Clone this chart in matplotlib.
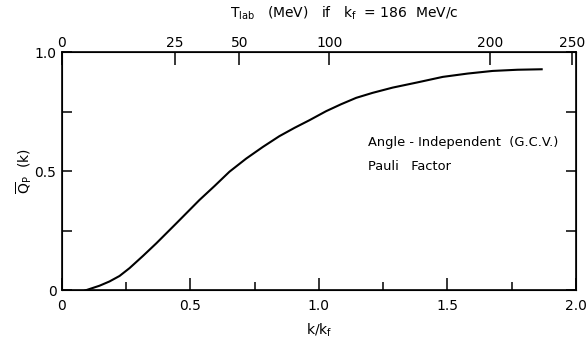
"""
Angle-independent Pauli factor vs k/k_f, with T_lab scale on top.
"""

# Imports #
import numpy as np
from matplotlib import pyplot as plt

# Data #
k_ratio = [0.09, 0.146, 0.185, 0.224, 0.263, 0.315, 0.367, 0.406, 0.445,
           0.490, 0.535, 0.594, 0.652, 0.717, 0.782, 0.846, 0.905, 0.963,
           1.028, 1.086, 1.145, 1.209, 1.287, 1.384, 1.482, 1.579, 1.676,
           1.773, 1.867]
q_pauli = [0.0, 0.020, 0.038, 0.061, 0.094, 0.145, 0.198, 0.240, 0.282,
           0.331, 0.380, 0.439, 0.499, 0.554, 0.603, 0.648, 0.683, 0.715,
           0.753, 0.782, 0.809, 0.830, 0.852, 0.874, 0.897, 0.911, 0.922,
           0.927, 0.929]

x_major = [0, 0.5, 1.0, 1.5, 2.0]
x_major_labels = ["0", "0.5", "1.0", "1.5", "2.0"]
x_minor = [0.25, 0.75, 1.25, 1.75]
y_major = [0, 0.5, 1.0]
y_major_labels = ["0", "0.5", "1.0"]
y_minor = [0.25, 0.75]

# T_lab (MeV) ticks on the top axis and where they sit in k/k_f
tlab_labels = ["0", "25", "50", "100", "200", "250"]
tlab_at_k = [0.0, 0.44, 0.69, 1.04, 1.665, 1.985]

plt.rcParams['font.family'] = ['DejaVu Sans']
fig = plt.figure(figsize=(5.87, 3.40), dpi=100)
ax = fig.add_axes([0.1056, 0.1456, 0.8754, 0.7004])

ax.plot(k_ratio, q_pauli, color='black', linewidth=1.5)

ax.set_xlim(0, 2.0)
ax.set_ylim(0, 1.0)
ax.set_xticks(x_major)
ax.set_xticklabels(x_major_labels)
ax.set_xticks(x_minor, minor=True)
ax.set_yticks(y_major)
ax.set_yticklabels(y_major_labels)
ax.set_yticks(y_minor, minor=True)
ax.tick_params(axis='x', which='major', direction='in', length=9, width=1.1,
               labelsize=10, pad=6)
ax.tick_params(axis='x', which='minor', direction='in', length=6, width=1.1)
ax.tick_params(axis='y', which='both', direction='in', length=7, width=1.1,
               right=True, labelsize=10, pad=4)
for s in ax.spines.values():
    s.set_linewidth(1.2)

ax.set_xlabel(r'k/k$_{\mathrm{f}}$', fontsize=10)
ax.xaxis.set_label_coords(0.5, -0.13)
ax.set_ylabel(r'$\overline{\mathrm{Q}}_{\mathrm{P}}$  (k)', fontsize=10)
ax.yaxis.set_label_coords(-0.055, 0.5)

# Top scale #
top = ax.twiny()
top.set_xlim(ax.get_xlim())
top.set_xticks(tlab_at_k)
top.set_xticklabels(tlab_labels)
top.tick_params(axis='x', direction='in', length=9, width=1.1, labelsize=10,
                pad=2)
top.set_xlabel(r'T$_{\mathrm{lab}}$   (MeV)   if   k$_{\mathrm{f}}$  = 186  MeV/c',
               fontsize=10)
top.xaxis.set_label_coords(0.55, 1.145)

ax.text(1.19, 0.62, 'Angle - Independent  (G.C.V.)', fontsize=9.4, va='center')
ax.text(1.19, 0.52, 'Pauli   Factor', fontsize=9.4, va='center')

fig.savefig('out.png', dpi=100)
